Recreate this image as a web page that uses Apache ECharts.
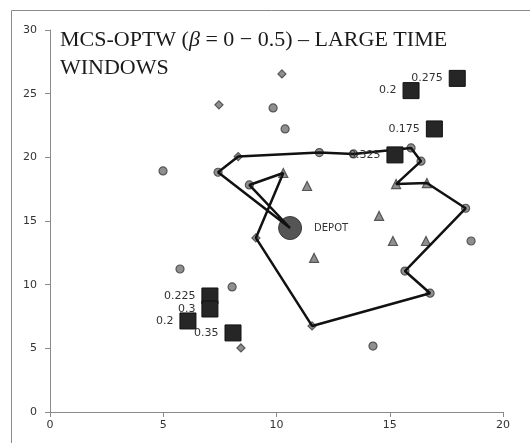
<!DOCTYPE html>
<html>
<head>
<meta charset="utf-8">
<script src="https://cdn.jsdelivr.net/npm/echarts@6/dist/echarts.min.js"></script>
<style>
  html, body { margin: 0; padding: 0; background: #fff; }
  #chart { width: 530px; height: 443px; }
</style>
</head>
<body>
<div id="chart"></div>
<script>
// Customer locations by marker shape
const circleX = [7.42, 11.89, 13.4, 15.94, 16.38, 18.35, 15.67, 16.78, 8.8, 9.85, 10.38, 4.99, 18.59, 5.74, 8.04, 14.26];
const circleY = [18.83, 20.37, 20.27, 20.74, 19.7, 16.0, 11.07, 9.33, 17.83, 23.88, 22.23, 18.93, 13.43, 11.23, 9.82, 5.18];
const diamondX = [8.31, 11.57, 9.09, 10.24, 7.46, 8.43];
const diamondY = [20.06, 6.76, 13.67, 26.55, 24.12, 5.03];
const triangleX = [15.28, 16.64, 10.3, 11.35, 14.53, 11.66, 15.14, 16.6];
const triangleY = [17.9, 17.98, 18.77, 17.75, 15.4, 12.1, 13.43, 13.43];

// Depot
const depotX = 10.6;
const depotY = 14.45;

// Tour visiting order (starts and ends at the depot)
const routeX = [10.6, 7.42, 8.31, 11.89, 13.4, 15.94, 16.38, 15.28, 16.64, 18.35, 15.67, 16.78, 11.57, 9.09, 10.3, 8.8, 10.6];
const routeY = [14.45, 18.83, 20.06, 20.37, 20.27, 20.74, 19.7, 17.9, 17.98, 16.0, 11.07, 9.33, 6.76, 13.67, 18.77, 17.83, 14.45];

// Beta-labelled solution points
const betaLabels = ['0.275', '0.2', '0.175', '0.325', '0.225', '0.3', '0.2', '0.35'];
const betaX = [17.98, 15.94, 16.97, 15.23, 7.06, 7.06, 6.09, 8.08];
const betaY = [26.2, 25.24, 22.23, 20.19, 9.11, 8.09, 7.15, 6.21];

const zip = (xs, ys) => xs.map((x, i) => [x, ys[i]]);

const chart = echarts.init(document.getElementById('chart'));

const axisCommon = {
  axisLine: { show: true, lineStyle: { color: '#8a8a8a', width: 1 } },
  axisTick: { show: true, length: 5, lineStyle: { color: '#8a8a8a' } },
  axisLabel: { color: '#333', fontFamily: 'DejaVu Sans', fontSize: 11 },
  splitLine: { show: false }
};

const customerStyle = { color: '#8f8f8f', borderColor: '#555', borderWidth: 1.2, opacity: 1 };

chart.setOption({
  animation: false,
  backgroundColor: '#fff',
  grid: { left: 50, right: 27, top: 30, bottom: 31 },
  graphic: [
    {
      type: 'rect',
      shape: { x: 11.5, y: 10.5, width: 540, height: 450 },
      style: { fill: 'none', stroke: '#8a8a8a', lineWidth: 1 },
      silent: true
    },
    {
      type: 'text',
      left: 60,
      top: 26,
      style: {
        text: 'MCS-OPTW ({i|β} = 0 − 0.5) – LARGE TIME\nWINDOWS',
        font: '22px "Liberation Serif"',
        fill: '#1a1a1a',
        lineHeight: 28,
        rich: {
          i: { font: 'italic 22px "Liberation Serif"', fill: '#1a1a1a' }
        }
      },
      z: 10
    }
  ],
  xAxis: Object.assign({ type: 'value', min: 0, max: 20, interval: 5 }, axisCommon,
    { axisLabel: Object.assign({}, axisCommon.axisLabel, { margin: 8 }) }),
  yAxis: Object.assign({ type: 'value', min: 0, max: 30, interval: 5 }, axisCommon,
    { axisLabel: Object.assign({}, axisCommon.axisLabel, { margin: 13 }) }),
  series: [
    {
      type: 'line',
      data: zip(routeX, routeY),
      showSymbol: false,
      lineStyle: { color: '#111', width: 2.5 },
      z: 3
    },
    {
      type: 'scatter',
      data: zip(circleX, circleY),
      symbol: 'circle',
      symbolSize: 8,
      itemStyle: customerStyle,
      z: 2
    },
    {
      type: 'scatter',
      data: zip(diamondX, diamondY),
      symbol: 'diamond',
      symbolSize: 8,
      itemStyle: customerStyle,
      z: 2
    },
    {
      type: 'scatter',
      data: zip(triangleX, triangleY),
      symbol: 'triangle',
      symbolSize: 9,
      itemStyle: customerStyle,
      z: 2
    },
    {
      type: 'scatter',
      data: [[depotX, depotY]],
      symbol: 'circle',
      symbolSize: 23,
      itemStyle: { color: '#555', borderColor: '#3a3a3a', borderWidth: 1, opacity: 1 },
      label: {
        show: true,
        position: 'right',
        distance: 12,
        formatter: 'DEPOT',
        color: '#333',
        fontFamily: 'DejaVu Sans',
        fontSize: 10
      },
      z: 2
    },
    {
      type: 'scatter',
      data: betaX.map((x, i) => ({ value: [x, betaY[i]], name: betaLabels[i] })),
      symbol: 'rect',
      symbolSize: 16,
      itemStyle: { color: '#262626', borderColor: '#111', borderWidth: 1, opacity: 1 },
      label: {
        show: true,
        position: 'left',
        distance: 6,
        formatter: p => p.name,
        color: '#333',
        fontFamily: 'DejaVu Sans',
        fontSize: 11
      },
      z: 4
    }
  ]
});
</script>
</body>
</html>
